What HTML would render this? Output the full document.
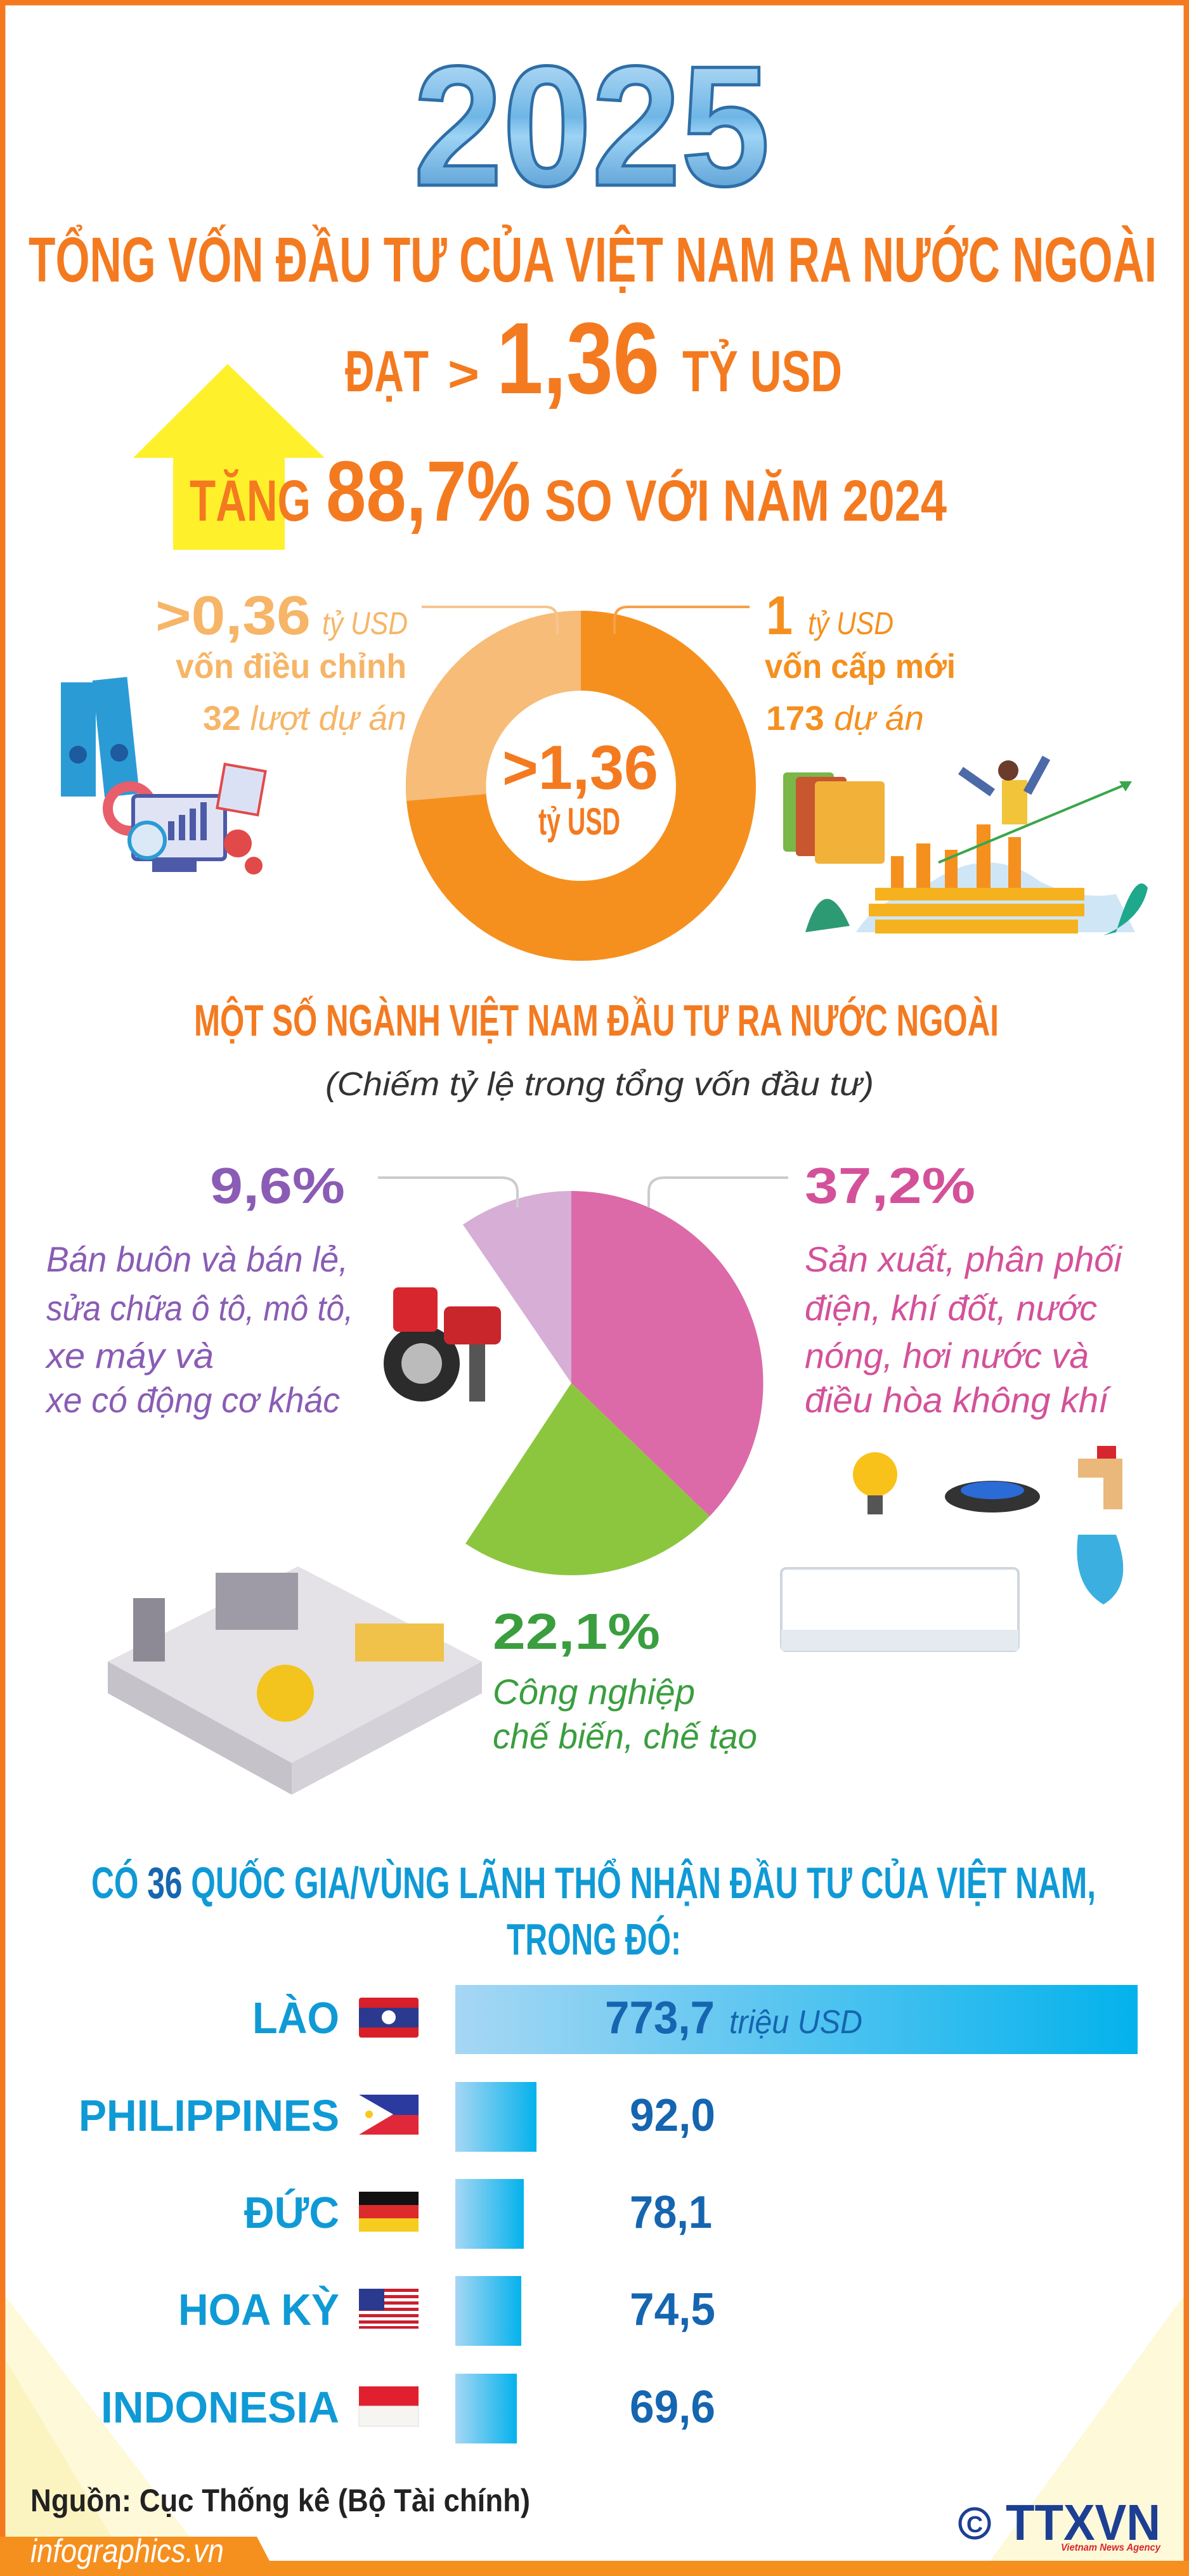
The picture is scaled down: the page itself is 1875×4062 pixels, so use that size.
<!DOCTYPE html>
<html><head><meta charset="utf-8">
<style>
html,body{margin:0;padding:0;background:#fff;}
svg{display:block;}
text{font-family:"Liberation Sans",sans-serif;}
</style></head>
<body>
<svg width="1875" height="4062" viewBox="0 0 1875 4062" xmlns="http://www.w3.org/2000/svg">
<defs>
<linearGradient id="g25" x1="0" y1="0" x2="0" y2="1">
<stop offset="0" stop-color="#cfe9fb"/><stop offset="0.45" stop-color="#6fb6e6"/><stop offset="0.55" stop-color="#9dd3f5"/><stop offset="1" stop-color="#3b86c4"/>
</linearGradient>
<linearGradient id="bar" x1="0" y1="0" x2="1" y2="0">
<stop offset="0" stop-color="#a6d7f4"/><stop offset="1" stop-color="#04b2ec"/>
</linearGradient>
</defs>
<rect x="0" y="0" width="1875" height="4062" fill="#fff"/>
<polygon points="8,3620 8,4040 330,4040" fill="#fdf7cf" opacity="0.8"/>
<polygon points="8,3720 8,4040 200,4040" fill="#fbf0a8" opacity="0.5"/>
<polygon points="1867,3620 1867,4040 1560,4040" fill="#fdf7cf" opacity="0.8"/>
<rect x="4" y="4" width="1867" height="4054" fill="none" stroke="#f47a20" stroke-width="9"/>

<text x="933" y="292" text-anchor="middle" font-family="Liberation Serif" font-weight="bold" font-size="270" fill="url(#g25)" stroke="#2f6ea6" stroke-width="5" textLength="562" lengthAdjust="spacingAndGlyphs">2025</text>

<text x="45" y="444" font-weight="bold" font-size="100" fill="#f47a20" textLength="1779" lengthAdjust="spacingAndGlyphs">TỔNG VỐN ĐẦU TƯ CỦA VIỆT NAM RA NƯỚC NGOÀI</text>
<text x="544" y="617" font-weight="bold" font-size="92" fill="#f47a20" textLength="132" lengthAdjust="spacingAndGlyphs">ĐẠT</text>
<text x="706" y="617" font-weight="bold" font-size="80" fill="#f47a20" textLength="50" lengthAdjust="spacingAndGlyphs">&gt;</text>
<text x="783" y="620" font-weight="bold" font-size="160" fill="#f47a20" textLength="257" lengthAdjust="spacingAndGlyphs">1,36</text>
<text x="1076" y="617" font-weight="bold" font-size="92" fill="#f47a20" textLength="252" lengthAdjust="spacingAndGlyphs">TỶ USD</text>

<polygon points="359,574 512,722 449,722 449,867 273,867 273,722 210,722" fill="#fff02c"/>
<text x="299" y="821" font-weight="bold" font-size="92" fill="#f47a20" textLength="191" lengthAdjust="spacingAndGlyphs">TĂNG</text>
<text x="514" y="821" font-weight="bold" font-size="135" fill="#f47a20" textLength="323" lengthAdjust="spacingAndGlyphs">88,7%</text>
<text x="859" y="821" font-weight="bold" font-size="92" fill="#f47a20" textLength="634" lengthAdjust="spacingAndGlyphs">SO VỚI NĂM 2024</text>

<circle cx="916" cy="1239" r="213" fill="none" stroke="#f5901f" stroke-width="126"/>
<path d="M916,963 A276,276 0 0 0 641,1263 L767,1252 A150,150 0 0 1 916,1089 Z" fill="#f7bc78"/>
<text x="792" y="1244" font-weight="bold" font-size="98" fill="#f47a20" textLength="246" lengthAdjust="spacingAndGlyphs">&gt;1,36</text>
<text x="849" y="1316" font-weight="bold" font-size="60" fill="#f47a20" textLength="129" lengthAdjust="spacingAndGlyphs">tỷ USD</text>

<path d="M665,957 L860,957 Q879,957 879,978 L879,1000" fill="none" stroke="#f7c48d" stroke-width="4"/>
<path d="M1182,957 L990,957 Q969,957 969,978 L969,1000" fill="none" stroke="#f5a04a" stroke-width="4"/>

<text x="245" y="1000" font-weight="bold" font-size="86" fill="#f6b567" textLength="245" lengthAdjust="spacingAndGlyphs">&gt;0,36</text>
<text x="508" y="1000" font-style="italic" font-size="50" fill="#f6b567" textLength="135" lengthAdjust="spacingAndGlyphs">tỷ USD</text>
<text x="277" y="1069" font-weight="bold" font-size="54" fill="#f6b567" textLength="364" lengthAdjust="spacingAndGlyphs">vốn điều chỉnh</text>
<text x="320" y="1151" font-size="54" fill="#f6b567" textLength="321" lengthAdjust="spacingAndGlyphs"><tspan font-weight="bold">32</tspan> <tspan font-style="italic">lượt dự án</tspan></text>
<text x="1208" y="1000" font-weight="bold" font-size="86" fill="#f5901f" textLength="42" lengthAdjust="spacingAndGlyphs">1</text>
<text x="1274" y="1000" font-style="italic" font-size="50" fill="#f5901f" textLength="135" lengthAdjust="spacingAndGlyphs">tỷ USD</text>
<text x="1206" y="1069" font-weight="bold" font-size="54" fill="#f5901f" textLength="301" lengthAdjust="spacingAndGlyphs">vốn cấp mới</text>
<text x="1208" y="1151" font-size="54" fill="#f5901f" textLength="249" lengthAdjust="spacingAndGlyphs"><tspan font-weight="bold">173</tspan> <tspan font-style="italic">dự án</tspan></text>

<rect x="96" y="1076" width="55" height="180" fill="#2b9bd6"/>
<rect x="155" y="1070" width="55" height="185" fill="#2b9bd6" transform="rotate(-6 180 1160)"/>
<circle cx="123" cy="1190" r="14" fill="#1d5a9e"/><circle cx="188" cy="1187" r="14" fill="#1d5a9e"/>
<circle cx="205" cy="1275" r="35" fill="none" stroke="#e85e6a" stroke-width="16"/>
<rect x="210" y="1255" width="145" height="100" rx="6" fill="#dfe3f4" stroke="#4c5aa8" stroke-width="6"/>
<rect x="240" y="1355" width="70" height="20" fill="#4c5aa8"/>
<rect x="265" y="1295" width="10" height="30" fill="#4c5aa8"/><rect x="282" y="1285" width="10" height="40" fill="#4c5aa8"/><rect x="299" y="1275" width="10" height="50" fill="#4c5aa8"/><rect x="316" y="1265" width="10" height="60" fill="#4c5aa8"/>
<circle cx="232" cy="1325" r="28" fill="#dbe9f7" stroke="#2b9bd6" stroke-width="6"/>
<rect x="348" y="1210" width="65" height="70" fill="#dbe1f5" stroke="#e24a4a" stroke-width="4" transform="rotate(10 380 1245)"/>
<circle cx="375" cy="1330" r="22" fill="#e24a4a"/><circle cx="400" cy="1365" r="14" fill="#e24a4a"/>

<rect x="1235" y="1218" width="80" height="125" fill="#7ab648" rx="6"/>
<rect x="1255" y="1225" width="80" height="125" fill="#c8562f" rx="6"/>
<rect x="1285" y="1232" width="110" height="130" fill="#f2b23a" rx="6"/>
<path d="M1350,1470 Q1380,1420 1470,1390 Q1560,1330 1640,1390 Q1700,1420 1760,1410 L1790,1470 Z" fill="#cfe6f6"/>
<g fill="#f6b21e">
<rect x="1380" y="1400" width="330" height="20"/><rect x="1370" y="1425" width="340" height="20"/><rect x="1380" y="1450" width="320" height="22"/>
<rect x="1405" y="1350" width="20" height="50" fill="#f5901f"/><rect x="1445" y="1330" width="22" height="70" fill="#f5901f"/><rect x="1490" y="1340" width="20" height="60" fill="#f5901f"/><rect x="1540" y="1300" width="22" height="100" fill="#f5901f"/><rect x="1590" y="1320" width="20" height="80" fill="#f5901f"/>
</g>
<line x1="1480" y1="1360" x2="1780" y2="1235" stroke="#3aa64a" stroke-width="4"/>
<polygon points="1785,1232 1765,1232 1775,1248" fill="#3aa64a"/>
<rect x="1580" y="1230" width="40" height="70" fill="#f2c43a"/>
<circle cx="1590" cy="1215" r="16" fill="#6b3b2b"/>
<line x1="1565" y1="1250" x2="1515" y2="1215" stroke="#4c6aa8" stroke-width="14"/>
<line x1="1620" y1="1250" x2="1650" y2="1195" stroke="#4c6aa8" stroke-width="14"/>
<path d="M1270,1470 Q1300,1370 1340,1460 Z" fill="#2e9a74"/>
<path d="M1760,1470 Q1790,1370 1810,1400 Q1800,1450 1740,1475 Z" fill="#1ea88c"/>

<text x="306" y="1633" font-weight="bold" font-size="70" fill="#f47a20" textLength="1269" lengthAdjust="spacingAndGlyphs">MỘT SỐ NGÀNH VIỆT NAM ĐẦU TƯ RA NƯỚC NGOÀI</text>
<text x="513" y="1727" font-style="italic" font-size="52" fill="#333" textLength="865" lengthAdjust="spacingAndGlyphs">(Chiếm tỷ lệ trong tổng vốn đầu tư)</text>

<path d="M901,2181 L901,1878 A303,303 0 0 1 1119,2391 Z" fill="#dc6aa8"/>
<path d="M901,2181 L1119,2391 A303,303 0 0 1 734,2434 Z" fill="#8cc63f"/>
<path d="M901,2181 L730,1931 A303,303 0 0 1 901,1878 Z" fill="#d7aed6"/>

<path d="M596,1857 L790,1857 Q816,1857 816,1880 L816,1904" fill="none" stroke="#cccccc" stroke-width="4"/>
<path d="M1243,1857 L1048,1857 Q1023,1857 1023,1880 L1023,1904" fill="none" stroke="#cccccc" stroke-width="4"/>

<text x="331" y="1897" font-weight="bold" font-size="80" fill="#8a5cb5" textLength="213" lengthAdjust="spacingAndGlyphs">9,6%</text>
<g font-style="italic" font-size="56" fill="#8a5cb5">
<text x="73" y="2005" textLength="476" lengthAdjust="spacingAndGlyphs">Bán buôn và bán lẻ,</text>
<text x="73" y="2082" textLength="484" lengthAdjust="spacingAndGlyphs">sửa chữa ô tô, mô tô,</text>
<text x="73" y="2157" textLength="264" lengthAdjust="spacingAndGlyphs">xe máy và</text>
<text x="73" y="2227" textLength="463" lengthAdjust="spacingAndGlyphs">xe có động cơ khác</text>
</g>
<text x="1269" y="1897" font-weight="bold" font-size="80" fill="#d4519a" textLength="269" lengthAdjust="spacingAndGlyphs">37,2%</text>
<g font-style="italic" font-size="56" fill="#d4519a">
<text x="1269" y="2005" textLength="500" lengthAdjust="spacingAndGlyphs">Sản xuất, phân phối</text>
<text x="1269" y="2082" textLength="461" lengthAdjust="spacingAndGlyphs">điện, khí đốt, nước</text>
<text x="1269" y="2157" textLength="448" lengthAdjust="spacingAndGlyphs">nóng, hơi nước và</text>
<text x="1269" y="2227" textLength="479" lengthAdjust="spacingAndGlyphs">điều hòa không khí</text>
</g>
<text x="777" y="2600" font-weight="bold" font-size="80" fill="#3a9e3f" textLength="264" lengthAdjust="spacingAndGlyphs">22,1%</text>
<g font-style="italic" font-size="56" fill="#3a9e3f">
<text x="777" y="2687" textLength="319" lengthAdjust="spacingAndGlyphs">Công nghiệp</text>
<text x="777" y="2757" textLength="417" lengthAdjust="spacingAndGlyphs">chế biến, chế tạo</text>
</g>

<circle cx="665" cy="2150" r="60" fill="#2b2b2b"/><circle cx="665" cy="2150" r="32" fill="#bbb"/>
<rect x="620" y="2030" width="70" height="70" rx="8" fill="#d8262e"/>
<rect x="700" y="2060" width="90" height="60" rx="10" fill="#c9262c"/>
<rect x="740" y="2120" width="25" height="90" fill="#555"/>

<polygon points="170,2620 470,2470 760,2620 460,2780" fill="#e4e2e6"/>
<polygon points="170,2620 460,2780 460,2830 170,2670" fill="#c5c2c9"/>
<polygon points="460,2780 760,2620 760,2670 460,2830" fill="#d4d1d8"/>
<rect x="210" y="2520" width="50" height="100" fill="#8d8a95"/>
<rect x="340" y="2480" width="130" height="90" fill="#9e9ba6"/>
<circle cx="450" cy="2670" r="45" fill="#f4c41e"/>
<rect x="560" y="2560" width="140" height="60" fill="#f0c24a"/>

<rect x="1232" y="2473" width="374" height="130" rx="8" fill="#fff" stroke="#cfd6de" stroke-width="4"/>
<rect x="1232" y="2570" width="374" height="33" fill="#e4eaf0"/>
<circle cx="1380" cy="2325" r="35" fill="#f9c21a"/>
<rect x="1368" y="2358" width="24" height="30" fill="#555"/>
<ellipse cx="1565" cy="2360" rx="75" ry="25" fill="#333"/>
<ellipse cx="1565" cy="2350" rx="50" ry="14" fill="#2b6bd6"/>
<path d="M1700,2300 L1770,2300 L1770,2380 L1740,2380 L1740,2330 L1700,2330 Z" fill="#e9b87a"/>
<path d="M1700,2420 Q1690,2500 1740,2530 Q1790,2500 1760,2420 Z" fill="#3bb0e0"/>
<rect x="1730" y="2280" width="30" height="20" fill="#d8262e"/>

<text x="144" y="2993" font-weight="bold" font-size="70" fill="#0f9ad6" textLength="1584" lengthAdjust="spacingAndGlyphs">CÓ <tspan fill="#1666b0">36</tspan> QUỐC GIA/VÙNG LÃNH THỔ NHẬN ĐẦU TƯ CỦA VIỆT NAM,</text>
<text x="799" y="3082" font-weight="bold" font-size="70" fill="#0f9ad6" textLength="275" lengthAdjust="spacingAndGlyphs">TRONG ĐÓ:</text>

<g font-weight="bold" font-size="70" fill="#0f9ad6" text-anchor="end">
<text x="535" y="3206" textLength="137" lengthAdjust="spacingAndGlyphs">LÀO</text>
<text x="535" y="3360" textLength="411" lengthAdjust="spacingAndGlyphs">PHILIPPINES</text>
<text x="535" y="3513" textLength="150" lengthAdjust="spacingAndGlyphs">ĐỨC</text>
<text x="535" y="3666" textLength="254" lengthAdjust="spacingAndGlyphs">HOA KỲ</text>
<text x="535" y="3820" textLength="376" lengthAdjust="spacingAndGlyphs">INDONESIA</text>
</g>

<g>
<rect x="566" y="3150" width="94" height="63" rx="4" fill="#d81f2a"/><rect x="566" y="3166" width="94" height="31" fill="#2b3a8f"/><circle cx="613" cy="3181" r="11" fill="#fff"/>
<rect x="566" y="3303" width="94" height="32" fill="#2b3a9f"/><rect x="566" y="3335" width="94" height="31" fill="#e0283a"/><polygon points="566,3303 620,3334 566,3366" fill="#fff"/><circle cx="582" cy="3334" r="6" fill="#f7c81e"/>
<rect x="566" y="3456" width="94" height="21" fill="#111"/><rect x="566" y="3477" width="94" height="21" fill="#dd2b2b"/><rect x="566" y="3498" width="94" height="21" fill="#f6cd1e"/>
<rect x="566" y="3609" width="94" height="63" fill="#fff"/>
<g fill="#c8202f"><rect x="566" y="3609" width="94" height="5"/><rect x="566" y="3619" width="94" height="5"/><rect x="566" y="3629" width="94" height="5"/><rect x="566" y="3639" width="94" height="5"/><rect x="566" y="3649" width="94" height="5"/><rect x="566" y="3659" width="94" height="5"/><rect x="566" y="3668" width="94" height="4"/></g>
<rect x="566" y="3609" width="40" height="34" fill="#2b3a8f"/>
<rect x="566" y="3763" width="94" height="31" fill="#e0202f"/><rect x="566" y="3794" width="94" height="32" fill="#f7f5f2" stroke="#ddd" stroke-width="1"/>
</g>

<rect x="718" y="3130" width="1076" height="109" fill="url(#bar)"/>
<rect x="718" y="3283" width="128" height="110" fill="url(#bar)"/>
<rect x="718" y="3436" width="108" height="110" fill="url(#bar)"/>
<rect x="718" y="3589" width="104" height="110" fill="url(#bar)"/>
<rect x="718" y="3743" width="97" height="110" fill="url(#bar)"/>

<text x="954" y="3206" font-weight="bold" font-size="72" fill="#1565b0" textLength="173" lengthAdjust="spacingAndGlyphs">773,7</text>
<text x="1150" y="3206" font-style="italic" font-size="52" fill="#1565b0" textLength="210" lengthAdjust="spacingAndGlyphs">triệu USD</text>
<g font-weight="bold" font-size="72" fill="#1565b0">
<text x="993" y="3360" textLength="135" lengthAdjust="spacingAndGlyphs">92,0</text>
<text x="993" y="3513" textLength="130" lengthAdjust="spacingAndGlyphs">78,1</text>
<text x="993" y="3666" textLength="135" lengthAdjust="spacingAndGlyphs">74,5</text>
<text x="993" y="3820" textLength="135" lengthAdjust="spacingAndGlyphs">69,6</text>
</g>

<text x="48" y="3960" font-weight="bold" font-size="50" fill="#222" textLength="788" lengthAdjust="spacingAndGlyphs">Nguồn: Cục Thống kê (Bộ Tài chính)</text>
<rect x="0" y="4038" width="1875" height="24" fill="#f5901f"/>
<polygon points="0,4000 405,4000 425,4038 0,4038" fill="#f5901f"/>
<text x="48" y="4040" font-style="italic" font-size="52" fill="#fff" textLength="305" lengthAdjust="spacingAndGlyphs">infographics.vn</text>
<circle cx="1537" cy="3979" r="23" fill="#fff" stroke="#1d3f93" stroke-width="5"/>
<text x="1537" y="3993" text-anchor="middle" font-weight="bold" font-size="36" fill="#1d3f93">C</text>
<text x="1586" y="4005" font-weight="bold" font-size="80" fill="#1d3f93" textLength="244" lengthAdjust="spacingAndGlyphs">TTXVN</text>
<text x="1673" y="4022" font-weight="bold" font-style="italic" font-size="16" fill="#d8262e" textLength="157" lengthAdjust="spacingAndGlyphs">Vietnam News Agency</text>
</svg>
</body></html>
